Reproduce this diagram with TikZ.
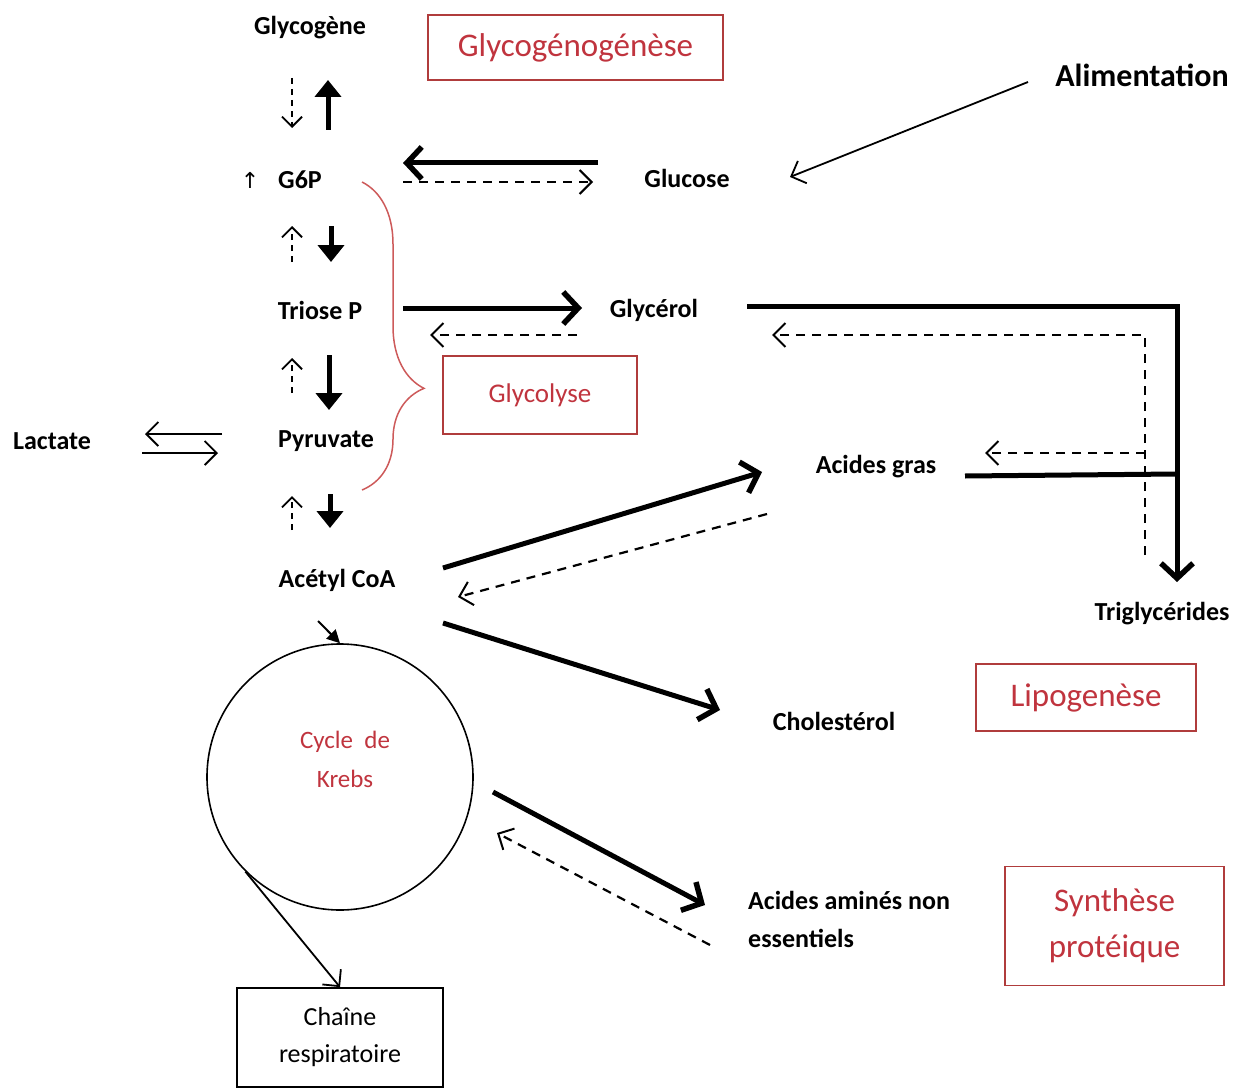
\documentclass[tikz,border=0pt]{standalone}
\usepackage{fontspec}
\setmainfont{Carlito}
\newfontfamily\dejavu{DejaVu Sans}
\usetikzlibrary{arrows.meta,decorations.pathreplacing}
\definecolor{redtxt}{RGB}{192,52,62}
\definecolor{redframe}{RGB}{176,60,60}
\definecolor{bracecol}{RGB}{205,90,90}
\begin{document}
\begin{tikzpicture}[x=1pt,y=-1pt,
  lbl/.style={font=\fontsize{26}{30}\selectfont\bfseries, inner sep=0pt},
  redlbl/.style={text=redtxt, font=\fontsize{33}{46}\selectfont, align=center},
  redbox/.style={draw=redframe, line width=1.5pt, inner sep=0pt},
  thickarr/.style={line width=5pt, -{Straight Barb[length=15pt,width=32pt,line width=5.5pt]}},
  thicksmall/.style={line width=5pt, -{Triangle[length=17pt,width=26pt]}},
  thinarr/.style={line width=1.8pt, -{Straight Barb[length=12pt,width=24pt,line width=1.8pt]}},
  dasharr/.style={line width=2.2pt, dash pattern=on 9pt off 7pt, -{Straight Barb[length=12pt,width=24pt,line width=2pt]}},
  dashsmall/.style={line width=2pt, dash pattern=on 6pt off 5pt, -{Straight Barb[length=10pt,width=20pt,line width=1.8pt]}}
]
\useasboundingbox (0,0) rectangle (1248,1089);

% labels
\node[lbl] (glycogene) at (310,28) {Glycogène};
\node[lbl] (g6p) at (300,180) {G6P};
\node[inner sep=0pt, font=\dejavu\fontsize{22}{24}\selectfont] (g6parrow) at (250,180) {↑};
\node[lbl] (triose) at (320,310) {Triose P};
\node[lbl] (pyruvate) at (326,441) {Pyruvate};
\node[lbl] (lactate) at (52,441) {Lactate};
\node[lbl] (acetyl) at (337,580) {Acétyl CoA};
\node[lbl] (glucose) at (687,178) {Glucose};
\node[lbl] (glycerol) at (654,310) {Glycérol};
\node[lbl] (acides) at (876,467) {Acides gras};
\node[lbl] (trigly) at (1162,614) {Triglycérides};
\node[lbl] (chol) at (834,721) {Cholestérol};
\node[lbl, align=left, anchor=west, font=\fontsize{26}{38}\selectfont\bfseries] (amines) at (748,919) {Acides aminés non\\essentiels};
\node[inner sep=0pt, font=\fontsize{32}{36}\selectfont\bfseries] (alim) at (1142,75) {Alimentation};

% red boxes
\node[redbox, redlbl, minimum width=295pt, minimum height=65pt] (glycogenese) at (575.5,47.5) {Glycogénogénèse};
\node[redbox, redlbl, font=\fontsize{27}{32}\selectfont, minimum width=194pt, minimum height=78pt] (glycolyse) at (540,395) {Glycolyse};
\node[redbox, redlbl, minimum width=220pt, minimum height=67pt] (lipo) at (1086,697.5) {Lipogenèse};
\node[redbox, redlbl, minimum width=219pt, minimum height=119pt] (synth) at (1114.5,926) {Synthèse\\protéique};

% Krebs
\node[draw, circle, line width=1.6pt, minimum size=266pt, inner sep=0pt] (krebs) at (340,777) {};
\node[text=redtxt, font=\fontsize{25}{39}\selectfont, align=center, inner sep=0pt] (krebstxt) at (345,759) {Cycle\ \ de\\Krebs};
\node[draw, line width=1.8pt, minimum width=206pt, minimum height=99pt, align=center, font=\fontsize{26}{37}\selectfont, inner sep=0pt] (chaine) at (340,1037.5) {Chaîne\\respiratoire};

% brace
\draw[bracecol, line width=1.5pt, decorate, decoration={brace, amplitude=62pt, aspect=0.67}] (362,182) coordinate (bt) -- (362,490) coordinate (bb);

% coordinates
\coordinate (c1) at (292,78);   \coordinate (c2) at (292,128);
\coordinate (c3) at (328,130);  \coordinate (c4) at (328,80);
\coordinate (c5) at (598,163);  \coordinate (c6) at (403,163);
\coordinate (c7) at (403,182);  \coordinate (c8) at (593,182);
\coordinate (c9) at (292,262);  \coordinate (c10) at (292,226);
\coordinate (c11) at (331,226); \coordinate (c12) at (331,262);
\coordinate (c13) at (403,308); \coordinate (c14) at (582,308);
\coordinate (c15) at (577,335); \coordinate (c16) at (430,335);
\coordinate (c17) at (292,393); \coordinate (c18) at (292,358);
\coordinate (c19) at (329,355); \coordinate (c20) at (329,410);
\coordinate (c21) at (222,434); \coordinate (c22) at (145,434);
\coordinate (c23) at (142,453); \coordinate (c24) at (218,453);
\coordinate (c25) at (292,530); \coordinate (c26) at (292,496);
\coordinate (c27) at (330,494); \coordinate (c28) at (330,528);
\coordinate (c29) at (1028,82); \coordinate (c30) at (790,177);
\coordinate (g1) at (747,306);  \coordinate (g2) at (1177,306); \coordinate (g3) at (1177,582);
\coordinate (f1) at (965,476);  \coordinate (f2) at (1177,474);
\coordinate (d1) at (1145,555); \coordinate (d2) at (1145,335); \coordinate (d3) at (772,335);
\coordinate (d4) at (1145,453); \coordinate (d5) at (985,453);
\coordinate (a1) at (443,568);  \coordinate (a2) at (762,472);
\coordinate (a3) at (767,514);  \coordinate (a4) at (458,597);
\coordinate (a5) at (443,623);  \coordinate (a6) at (720,710);
\coordinate (k0) at (318,621);
\coordinate (k1) at (493,792);  \coordinate (k2) at (705,905);
\coordinate (k3) at (710,945);  \coordinate (k4) at (497,833);

% connectors
\draw[dashsmall] (c1) -- (c2);
\draw[thicksmall] (c3) -- (c4);
\draw[thickarr] (c5) -- (c6);
\draw[dasharr] (c7) -- (c8);
\draw[dashsmall] (c9) -- (c10);
\draw[thicksmall] (c11) -- (c12);
\draw[thickarr] (c13) -- (c14);
\draw[dasharr] (c15) -- (c16);
\draw[dashsmall] (c17) -- (c18);
\draw[thicksmall] (c19) -- (c20);
\draw[thinarr] (c21) -- (c22);
\draw[thinarr] (c23) -- (c24);
\draw[dashsmall] (c25) -- (c26);
\draw[thicksmall] (c27) -- (c28);
\draw[thinarr] (c29) -- (c30);
\draw[line width=5pt, line join=miter, -{Straight Barb[length=15pt,width=32pt,line width=5.5pt]}] (g1) -- (g2) -- (g3);
\draw[line width=5pt] (f1) -- (f2);
\draw[dasharr] (d1) -- (d2) -- (d3);
\draw[dasharr] (d4) -- (d5);
\draw[thickarr] (a1) -- (a2);
\draw[dasharr] (a3) -- (a4);
\draw[thickarr] (a5) -- (a6);
\draw[line width=2pt, -{Triangle[length=13pt,width=13pt]}] (k0) -- (krebs.north);
\draw[thickarr] (k1) -- (k2);
\draw[dasharr] (k3) -- (k4);
\draw[thinarr] (krebs.225) -- (chaine.north);
\end{tikzpicture}
\end{document}
